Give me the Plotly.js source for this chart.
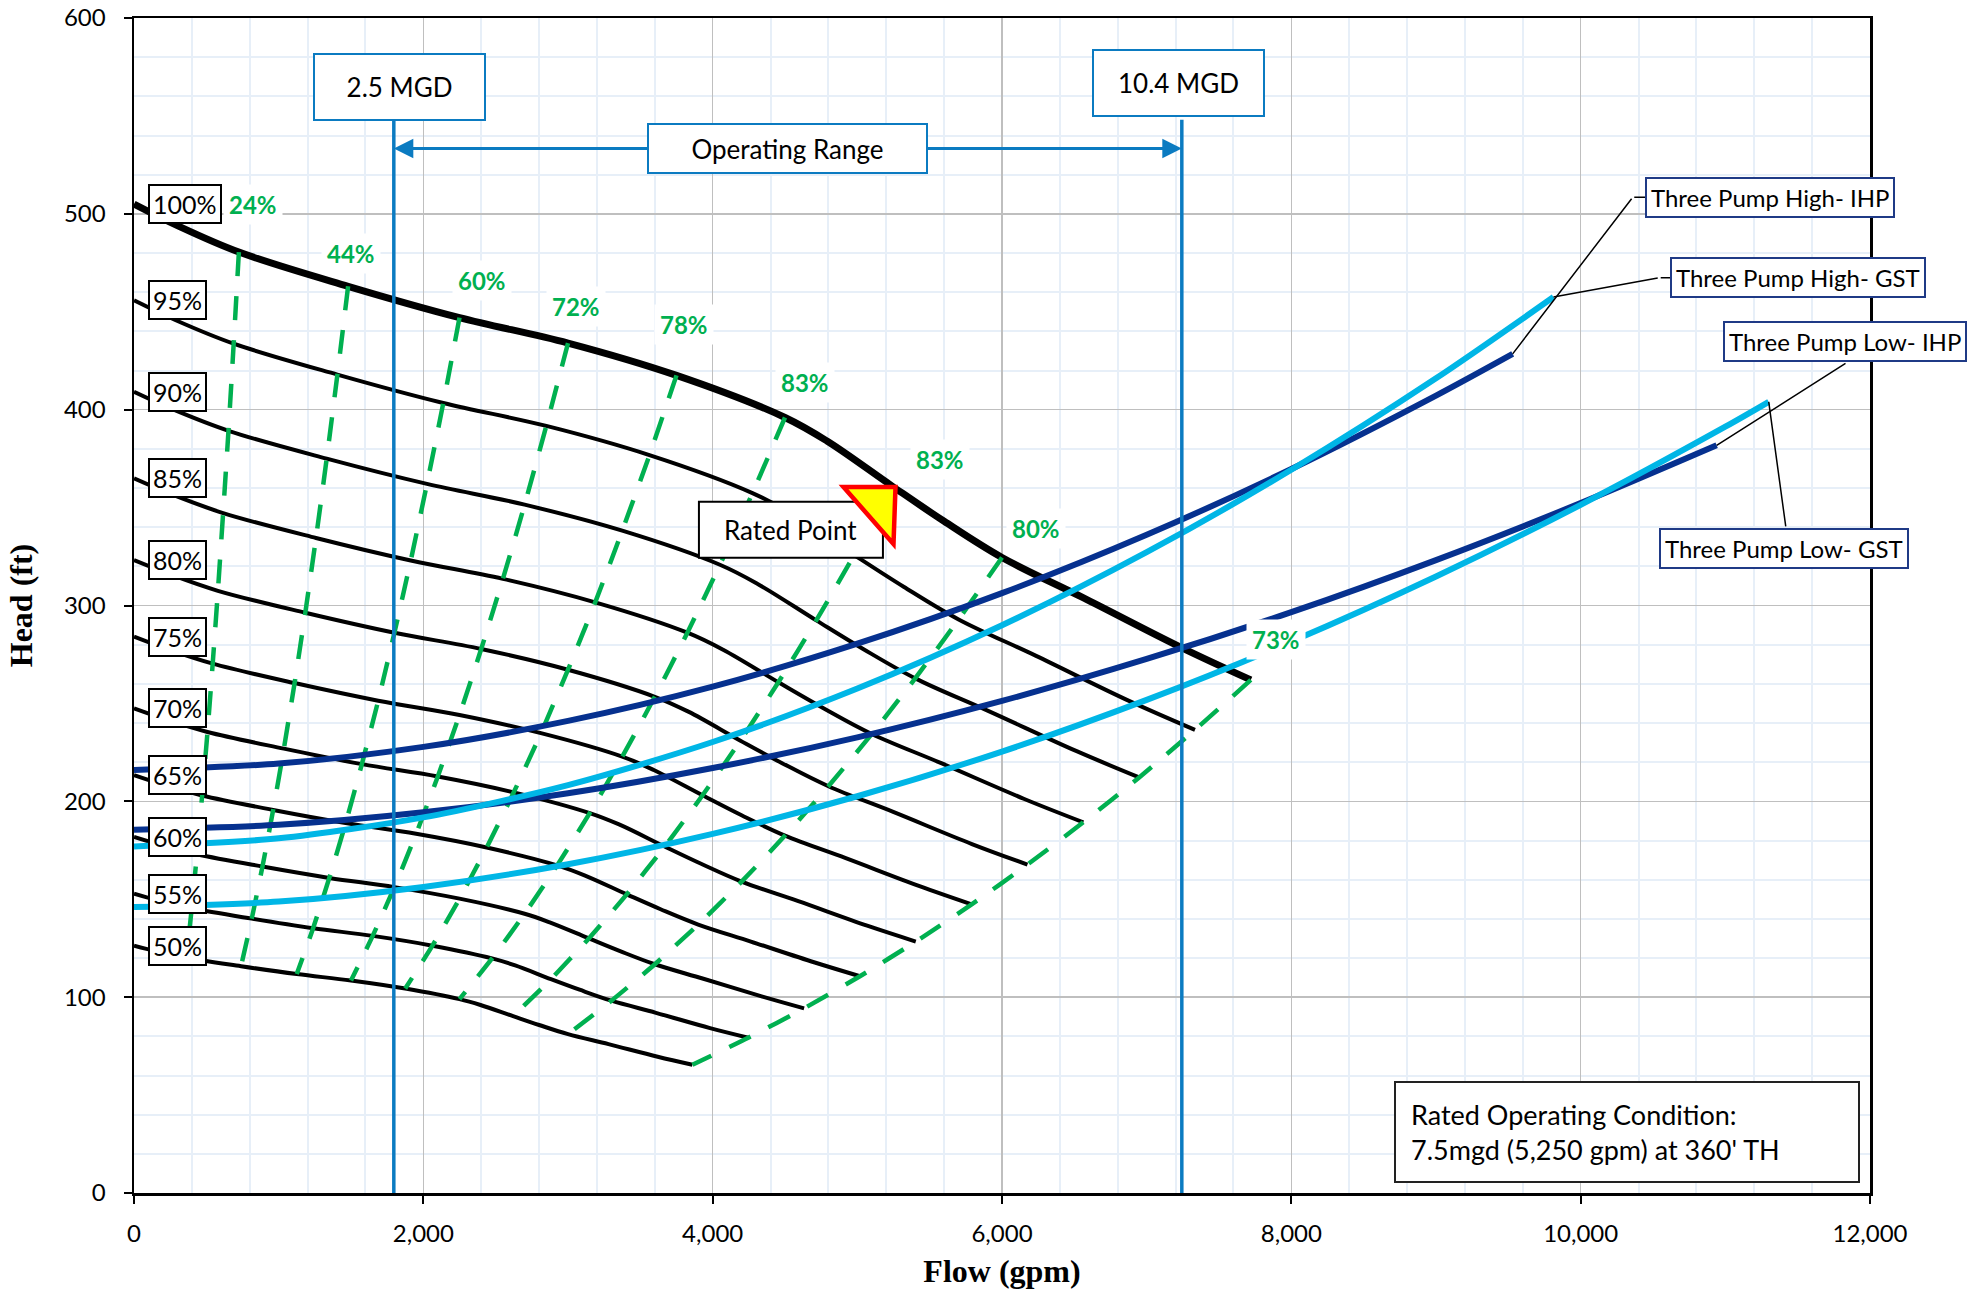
<!DOCTYPE html>
<html>
<head>
<meta charset="utf-8">
<script src="https://cdn.plot.ly/plotly-3.0.1.min.js"></script>
<style>
html,body{margin:0;padding:0;background:#fff;}
#chart{width:1988px;height:1292px;}
</style>
</head>
<body>
<div id="chart"></div>
<script>
// ---------------- DATA ----------------
const speedLabels = ['100%','95%','90%','85%','80%','75%','70%','65%','60%','55%','50%'];

const flow100 = [0, 300, 725, 1480, 2250, 3000, 3750, 4500, 4790, 5240, 5600, 6000, 6560, 7240, 7720];
const head100 = [505, 494, 480.5, 463, 447, 434, 417.5, 396, 384, 361, 343, 324.5, 304, 278.5, 262];
const flow95 = [0, 285, 689, 1406, 2138, 2850, 3563, 4275, 4551, 4978, 5320, 5700, 6232, 6878, 7334];
const head95 = [455.8, 445.8, 433.7, 417.9, 403.4, 391.7, 376.8, 357.4, 346.6, 325.8, 309.6, 292.9, 274.4, 251.3, 236.5];
const flow90 = [0, 270, 653, 1332, 2025, 2700, 3375, 4050, 4311, 4716, 5040, 5400, 5904, 6516, 6948];
const head90 = [409.1, 400.1, 389.2, 375.0, 362.1, 351.5, 338.2, 320.8, 311.0, 292.4, 277.8, 262.8, 246.2, 225.6, 212.2];
const flow85 = [0, 255, 616, 1258, 1913, 2550, 3188, 3825, 4072, 4454, 4760, 5100, 5576, 6154, 6562];
const head85 = [364.9, 356.9, 347.2, 334.5, 323.0, 313.6, 301.6, 286.1, 277.4, 260.8, 247.8, 234.4, 219.6, 201.2, 189.3];
const flow80 = [0, 240, 580, 1184, 1800, 2400, 3000, 3600, 3832, 4192, 4480, 4800, 5248, 5792, 6176];
const head80 = [323.2, 316.2, 307.5, 296.3, 286.1, 277.8, 267.2, 253.4, 245.8, 231.0, 219.5, 207.7, 194.6, 178.2, 167.7];
const flow75 = [0, 225, 544, 1110, 1688, 2250, 2813, 3375, 3593, 3930, 4200, 4500, 4920, 5430, 5790];
const head75 = [284.1, 277.9, 270.3, 260.4, 251.4, 244.1, 234.8, 222.8, 216.0, 203.1, 192.9, 182.5, 171.0, 156.7, 147.4];
const flow70 = [0, 210, 508, 1036, 1575, 2100, 2625, 3150, 3353, 3668, 3920, 4200, 4592, 5068, 5404];
const head70 = [247.5, 242.1, 235.4, 226.9, 219.0, 212.7, 204.6, 194.0, 188.2, 176.9, 168.1, 159.0, 149.0, 136.5, 128.4];
const flow65 = [0, 195, 471, 962, 1463, 1950, 2438, 2925, 3114, 3406, 3640, 3900, 4264, 4706, 5018];
const head65 = [213.4, 208.7, 203.0, 195.6, 188.9, 183.4, 176.4, 167.3, 162.2, 152.5, 144.9, 137.1, 128.4, 117.7, 110.7];
const flow60 = [0, 180, 435, 888, 1350, 1800, 2250, 2700, 2874, 3144, 3360, 3600, 3936, 4344, 4632];
const head60 = [181.8, 177.8, 173.0, 166.7, 160.9, 156.2, 150.3, 142.6, 138.2, 130.0, 123.5, 116.8, 109.4, 100.3, 94.3];
const flow55 = [0, 165, 399, 814, 1238, 1650, 2063, 2475, 2635, 2882, 3080, 3300, 3608, 3982, 4246];
const head55 = [152.8, 149.4, 145.4, 140.1, 135.2, 131.3, 126.3, 119.8, 116.2, 109.2, 103.8, 98.2, 92.0, 84.2, 79.3];
const flow50 = [0, 150, 363, 740, 1125, 1500, 1875, 2250, 2395, 2620, 2800, 3000, 3280, 3620, 3860];
const head50 = [126.3, 123.5, 120.1, 115.8, 111.8, 108.5, 104.4, 99.0, 96.0, 90.3, 85.8, 81.1, 76.0, 69.6, 65.5];

// iso-efficiency lines: they join the same point of each speed curve
const effLabels = ['24%','44%','60%','72%','78%','83%','83%','80%','73%'];
const effPointIndex = [2, 3, 4, 5, 6, 7, 9, 11, 14];
const effLabelFlow = [824, 1502, 2406, 3054, 3804, 4638, 5570, 6238, 7895];
const effLabelHead = [504.8, 479.9, 466, 452.9, 443.4, 414.1, 374.7, 339.1, 282.6];

// system curves
const sysNames = ['Three Pump High- IHP','Three Pump High- GST','Three Pump Low- IHP','Three Pump Low- GST'];
const flowHighIHP = [0, 1000, 2000, 3000, 4000, 5000, 6000, 7000, 8000, 9000, 9530];
const headHighIHP = [216, 219.3, 227.8, 241.1, 258.6, 280.5, 306.3, 336.1, 369.7, 407.2, 428.5];
const flowHighGST = [0, 1000, 2000, 3000, 4000, 5000, 6000, 7000, 8000, 9000, 9812];
const headHighGST = [177, 181.1, 191.8, 208.3, 230.3, 257.6, 289.9, 327.2, 369.3, 416, 457.5];
const flowLowIHP = [0, 1000, 2000, 3000, 4000, 5000, 6000, 7000, 8000, 9000, 10000, 10940];
const headLowIHP = [185.5, 188, 194.4, 204.1, 217, 232.7, 251.3, 272.7, 296.6, 323.2, 352.3, 381.8];
const flowLowGST = [0, 1000, 2000, 3000, 4000, 5000, 6000, 7000, 8000, 9000, 10000, 11000, 11300];
const headLowGST = [146, 148.8, 156.3, 167.9, 183.4, 202.6, 225.4, 251.8, 281.6, 314.8, 351.4, 391.3, 404];
// label box anchors for the system-curve callouts
const sysLabelFlow = [10445, 10619, 10981, 10542];
const sysLabelHead = [508.5, 467.4, 434.7, 329.2];
const sysLeaderFlow = [10360, 10543, 11841, 11419];
const sysLeaderHead = [508.5, 467.4, 424.1, 339.6];

// operating range limits
const mgdLabels = ['2.5 MGD', '10.4 MGD'];
const mgdFlow = [1796, 7243];
const mgdLabelFlow = [1838, 7220];
const mgdLabelHead = [565, 567];
const mgdLineTop = 548;
const rangeLabel = 'Operating Range';
const rangeHead = 533.3;
const rangeLabelFlow = 4519;

// rated point
const ratedFlow = 5250;
const ratedHead = 360;
const ratedLabelFlow = 4541;
const ratedLabelHead = 338.7;
const conditionText = "Rated Operating Condition:<br>7.5mgd (5,250 gpm) at 360' TH";
const conditionFlow = 10321;
const conditionHead = 31;

const xTitle = 'Flow (gpm)';
const yTitle = 'Head (ft)';

// ---------------- BUILD ----------------
const speedFlows = [flow100, flow95, flow90, flow85, flow80, flow75, flow70, flow65, flow60, flow55, flow50];
const speedHeads = [head100, head95, head90, head85, head80, head75, head70, head65, head60, head55, head50];

const GREEN = '#00B050', NAVY = '#06318F', LIGHT = '#00B6E6', BLUE = '#0B7BC1';
const FONT = 'Lato, "Open Sans", sans-serif';

const traces = [];
speedFlows.forEach((f, i) => {
  traces.push({
    x: f, y: speedHeads[i], type: 'scatter', mode: 'lines', name: speedLabels[i],
    line: {color: '#000', width: i === 0 ? 7 : 4, shape: 'spline', smoothing: 1},
    hoverinfo: 'skip'
  });
});
effPointIndex.forEach((k, j) => {
  traces.push({
    x: speedFlows.map(f => f[k]), y: speedHeads.map(h => h[k]),
    type: 'scatter', mode: 'lines', name: effLabels[j],
    line: {color: GREEN, width: 4.5, dash: '24px,20px', shape: 'spline', smoothing: 0.6},
    hoverinfo: 'skip'
  });
});
const sysFlows = [flowHighIHP, flowHighGST, flowLowIHP, flowLowGST];
const sysHeads = [headHighIHP, headHighGST, headLowIHP, headLowGST];
const sysColors = [NAVY, LIGHT, NAVY, LIGHT];
[0, 2, 1, 3].forEach(i => {
  traces.push({
    x: sysFlows[i], y: sysHeads[i], type: 'scatter', mode: 'lines', name: sysNames[i],
    line: {color: sysColors[i], width: 6, shape: 'spline', smoothing: 0.8},
    hoverinfo: 'skip'
  });
});

const shapes = [];
mgdFlow.forEach(q => {
  shapes.push({type: 'line', xref: 'x', yref: 'y', x0: q, x1: q, y0: 0, y1: mgdLineTop,
               line: {color: BLUE, width: 3.5}});
});
shapes.push({type: 'rect', xref: 'x', yref: 'y', xsizemode: 'pixel', ysizemode: 'pixel',
             xanchor: ratedLabelFlow, yanchor: ratedLabelHead, x0: -92, x1: 92, y0: -28, y1: 28,
             fillcolor: '#fff', line: {color: '#000', width: 2}});
shapes.push({type: 'path', xref: 'x', yref: 'y', xsizemode: 'pixel', ysizemode: 'pixel',
             xanchor: ratedFlow, yanchor: ratedHead, path: 'M -50 1 L 2 1 L 0 -56 Z',
             fillcolor: '#FFFF00', line: {color: '#FF0000', width: 4.5}});

const annotations = [];
speedLabels.forEach((lab, i) => {
  annotations.push({x: 100, y: speedHeads[i][0], xref: 'x', yref: 'y', xanchor: 'left', yanchor: 'middle',
    text: lab, showarrow: false, font: {family: FONT, size: 25, color: '#000'},
    bgcolor: '#fff', bordercolor: '#000', borderwidth: 2, borderpad: 3});
});
effLabels.forEach((lab, j) => {
  annotations.push({x: effLabelFlow[j], y: effLabelHead[j], xref: 'x', yref: 'y',
    text: '<b>' + lab + '</b>', showarrow: false, font: {family: FONT, size: 24, color: GREEN},
    bgcolor: '#fff', borderpad: 5});
});
// operating range arrows
mgdFlow.forEach(q => {
  annotations.push({x: q, y: rangeHead, ax: rangeLabelFlow, ay: rangeHead, xref: 'x', yref: 'y',
    axref: 'x', ayref: 'y', text: '', showarrow: true, arrowhead: 2, arrowsize: 1.3,
    arrowwidth: 3, arrowcolor: BLUE});
});
annotations.push({x: rangeLabelFlow, y: rangeHead, xref: 'x', yref: 'y', text: rangeLabel,
  showarrow: false, font: {family: FONT, size: 26, color: '#000'}, bgcolor: '#fff',
  bordercolor: BLUE, borderwidth: 2, borderpad: 2, width: 273, height: 43});
mgdLabels.forEach((lab, i) => {
  annotations.push({x: mgdLabelFlow[i], y: mgdLabelHead[i], xref: 'x', yref: 'y', text: lab,
    showarrow: false, font: {family: FONT, size: 26, color: '#000'}, bgcolor: '#fff',
    bordercolor: BLUE, borderwidth: 2, borderpad: 2, width: 165, height: 60});
});
annotations.push({x: ratedLabelFlow, y: ratedLabelHead, xref: 'x', yref: 'y', text: 'Rated Point',
  showarrow: false, font: {family: FONT, size: 26, color: '#000'}});
// system curve callouts (leader lines, then boxes)
sysNames.forEach((nm, i) => {
  const f = sysFlows[i], h = sysHeads[i];
  annotations.push({x: f[f.length - 1], y: h[h.length - 1], ax: sysLeaderFlow[i], ay: sysLeaderHead[i],
    xref: 'x', yref: 'y', axref: 'x', ayref: 'y', text: '', showarrow: true, arrowhead: 0,
    arrowwidth: 1.5, arrowcolor: '#000'});
  if (i < 2) {
    annotations.push({x: sysLabelFlow[i], y: sysLabelHead[i], ax: sysLeaderFlow[i], ay: sysLeaderHead[i],
      xref: 'x', yref: 'y', axref: 'x', ayref: 'y', text: '', showarrow: true, arrowhead: 0,
      arrowwidth: 1.5, arrowcolor: '#000'});
  }
});
sysNames.forEach((nm, i) => {
  annotations.push({x: sysLabelFlow[i], y: sysLabelHead[i], xref: 'x', yref: 'y',
    xanchor: 'left', yanchor: 'middle', text: nm, showarrow: false,
    font: {family: FONT, size: 24, color: '#000'}, bgcolor: '#fff', bordercolor: '#1F3A86',
    borderwidth: 2, borderpad: 4});
});
annotations.push({x: conditionFlow, y: conditionHead, xref: 'x', yref: 'y', text: conditionText,
  align: 'left', showarrow: false, font: {family: FONT, size: 27, color: '#000'}, bgcolor: '#fff',
  bordercolor: '#222', borderwidth: 2, borderpad: 15, width: 432, height: 68});

const layout = {
  width: 1988, height: 1292,
  margin: {l: 134, r: 118, t: 18, b: 99},
  paper_bgcolor: '#fff', plot_bgcolor: '#fff',
  showlegend: false, hovermode: false,
  font: {family: FONT, color: '#000'},
  xaxis: {
    range: [0, 12000], tick0: 0, dtick: 2000, tickformat: ',d',
    ticks: 'outside', ticklen: 8, tickwidth: 2, tickcolor: '#000', ticklabelstandoff: 10,
    tickfont: {family: FONT, size: 24, color: '#000'},
    showline: true, linecolor: '#000', linewidth: 2.5, mirror: true,
    showgrid: true, gridcolor: '#BFBFBF', gridwidth: 1.6, zeroline: false,
    minor: {dtick: 400, showgrid: true, gridcolor: '#E7EFF8', gridwidth: 2},
    title: {text: '<b>' + xTitle + '</b>', font: {family: '"Liberation Serif", serif', size: 32, color: '#000'}, standoff: 14}
  },
  yaxis: {
    range: [0, 600], tick0: 0, dtick: 100,
    ticks: 'outside', ticklen: 8, tickwidth: 2, tickcolor: '#000', ticklabelstandoff: 13,
    tickfont: {family: FONT, size: 24, color: '#000'},
    showline: true, linecolor: '#000', linewidth: 2.5, mirror: true,
    showgrid: true, gridcolor: '#BFBFBF', gridwidth: 1.6, zeroline: false,
    minor: {dtick: 20, showgrid: true, gridcolor: '#E7EFF8', gridwidth: 2},
    title: {text: '<b>' + yTitle + '</b>', font: {family: '"Liberation Serif", serif', size: 32, color: '#000'}, standoff: 22}
  },
  shapes: shapes,
  annotations: annotations
};

Plotly.newPlot('chart', traces, layout, {displayModeBar: false, staticPlot: true});
</script>
</body>
</html>
